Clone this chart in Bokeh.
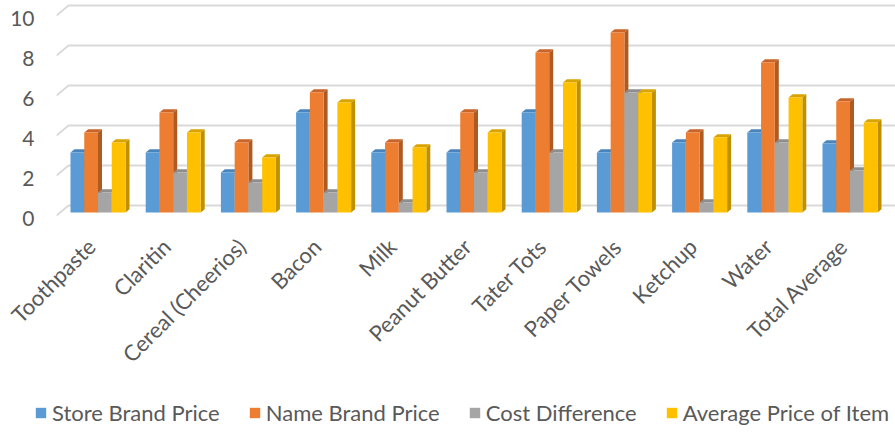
import math
from bokeh.plotting import figure
from bokeh.layouts import column, row
from bokeh.models import FixedTicker, Legend, LegendItem, ColumnDataSource
from bokeh.embed import file_html
from bokeh.resources import INLINE

# ---------------- data ----------------
categories = ["Toothpaste", "Claritin", "Cereal (Cheerios)", "Bacon", "Milk",
              "Peanut Butter", "Tater Tots", "Paper Towels", "Ketchup", "Water",
              "Total Average"]
store_brand = [3, 3, 2, 5, 3, 3, 5, 3, 3.5, 4, 3.45]
name_brand = [4, 5, 3.5, 6, 3.5, 5, 8, 9, 4, 7.5, 5.55]
cost_diff = [1, 2, 1.5, 1, 0.5, 2, 3, 6, 0.5, 3.5, 2.1]
avg_price = [3.5, 4, 2.75, 5.5, 3.25, 4, 6.5, 6, 3.75, 5.75, 4.5]
series_names = ["Store Brand Price", "Name Brand Price", "Cost Difference",
                "Average Price of Item"]
y_ticks = [0, 2, 4, 6, 8, 10]

# ---------------- style ----------------
FONT = "Lato"
TEXT = "#595959"
GRID = "#d9d9d9"
front_colors = ["#5B9BD5", "#ED7D31", "#A5A5A5", "#FFC000"]
side_colors = ["#41719C", "#AE5A21", "#7B7B7B", "#BF9000"]
top_colors = ["#4A84BC", "#C9652A", "#8E8E8E", "#D9A300"]

W, H_MAIN, H_LEG = 895, 400, 34
X0, X1 = -0.552, 10.605
Y0, Y1 = -0.2, 10.75
BW = 0.1829       # bar width (category units)
BASE = 0.15       # bar plane sits a little behind the front plane
DX, DY = 0.053, 0.16   # bar depth
GDX, GDY = 0.16, 0.5   # wall depth
LABEL_SHIFT = 0.09     # rotated label anchor nudge (category units)
YLABEL_SHIFT = 0.15    # value-label nudge (value units)

p = figure(width=W, height=H_MAIN, x_range=(X0, X1), y_range=(Y0, Y1),
           output_backend="svg", toolbar_location=None,
           min_border_left=56, min_border_right=0, min_border_top=0,
           min_border_bottom=181)
p.outline_line_color = None
p.xgrid.grid_line_color = None
p.ygrid.grid_line_color = None
p.background_fill_color = "white"

# back-wall gridlines with side-wall diagonal
gxs, gys = [], []
for t in y_ticks:
    gxs.append([X0, X0 + GDX, X1])
    gys.append([t, t + GDY, t + GDY])
p.multi_line(gxs, gys, line_color=GRID, line_width=1.8)

series = [store_brand, name_brand, cost_diff, avg_price]
for s, vals in enumerate(series):
    centers = [i + (s - 1.5) * BW for i in range(len(categories))]
    lefts = [c - BW / 2 for c in centers]
    rights = [c + BW / 2 for c in centers]
    tops = [BASE + v for v in vals]
    side_xs = [[r, r + DX, r + DX, r] for r in rights]
    side_ys = [[BASE, BASE + DY, t + DY, t] for t in tops]
    top_xs = [[l, r, r + DX, l + DX] for l, r in zip(lefts, rights)]
    top_ys = [[t, t, t + DY, t + DY] for t in tops]
    p.patches(side_xs, side_ys, fill_color=side_colors[s], line_color=None)
    p.patches(top_xs, top_ys, fill_color=top_colors[s], line_color=None)
    src = ColumnDataSource(dict(left=lefts, right=rights, top=tops,
                                bottom=[BASE] * len(tops)))
    p.quad(left="left", right="right", top="top", bottom="bottom",
           source=src, fill_color=front_colors[s], line_color=None)

# axes
y_tick_pos = [round(t - YLABEL_SHIFT, 4) for t in y_ticks]
p.yaxis.ticker = FixedTicker(ticks=y_tick_pos)
p.yaxis.major_label_overrides = {tp: str(t) for tp, t in zip(y_tick_pos, y_ticks)}
p.yaxis.axis_line_color = None
p.yaxis.major_tick_line_color = None
p.yaxis.minor_tick_line_color = None
p.yaxis.major_tick_out = 0
p.yaxis.major_label_standoff = 22
p.yaxis.major_label_text_font = FONT
p.yaxis.major_label_text_font_size = "21px"
p.yaxis.major_label_text_color = TEXT

x_ticks = [round(i - LABEL_SHIFT, 4) for i in range(len(categories))]
p.xaxis.ticker = FixedTicker(ticks=x_ticks)
p.xaxis.major_label_overrides = {t: c for t, c in zip(x_ticks, categories)}
p.xaxis.major_label_orientation = math.pi / 4
p.xaxis.axis_line_color = None
p.xaxis.major_tick_line_color = None
p.xaxis.minor_tick_line_color = None
p.xaxis.major_tick_out = 0
p.xaxis.major_label_standoff = 23
p.xaxis.major_label_text_font = FONT
p.xaxis.major_label_text_font_size = "22px"
p.xaxis.major_label_text_color = TEXT

# legend strip
lg = figure(width=W, height=H_LEG, x_range=(0, 1), y_range=(0, 1),
            output_backend="svg", toolbar_location=None,
            x_axis_location=None, y_axis_location=None,
            min_border_left=0, min_border_right=0, min_border_top=0,
            min_border_bottom=0)
lg.xgrid.grid_line_color = None
lg.ygrid.grid_line_color = None
lg.outline_line_color = None
items = []
for s, name in enumerate(series_names):
    # key swatch source placed outside the visible range of the strip
    r = lg.quad(left=[5], right=[6], top=[6], bottom=[5],
                fill_color=front_colors[s], line_color=None)
    items.append(LegendItem(label=name, renderers=[r]))
legend = Legend(items=items, location=(34, 8), orientation="horizontal",
                glyph_width=13, glyph_height=13, label_standoff=5, spacing=28,
                padding=0, margin=0, border_line_color=None,
                background_fill_alpha=0, label_text_font=FONT,
                label_text_font_size="22px", label_text_color=TEXT,
                label_height=18)
lg.add_layout(legend)

layout = column(p, row(lg, spacing=0), spacing=0)
open("out.html", "w").write(file_html(layout, INLINE))
